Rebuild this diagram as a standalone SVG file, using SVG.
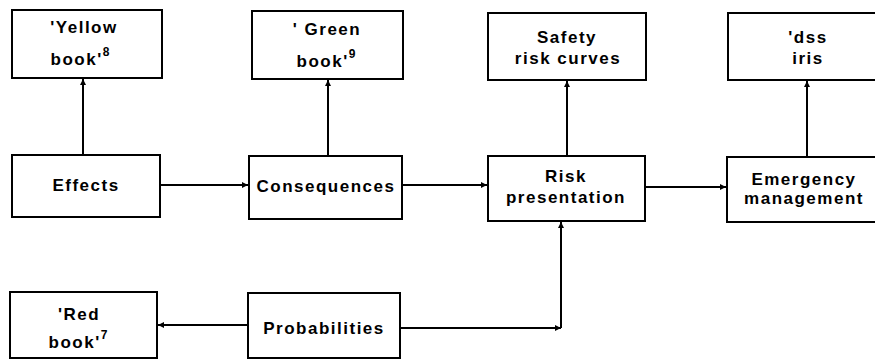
<svg xmlns="http://www.w3.org/2000/svg" width="875" height="360" viewBox="0 0 875 360">
<defs>
<marker id="ah" viewBox="0 0 10 10" refX="10" refY="5" markerWidth="9" markerHeight="6" markerUnits="userSpaceOnUse" orient="auto">
<path d="M0,0 L10,5 L0,10 z" fill="#000"/>
</marker>
<style>
rect{fill:#fff;stroke:#000;stroke-width:2}
text{font-family:"Liberation Sans",Arial,sans-serif;font-size:17px;font-weight:bold;letter-spacing:1.5px;fill:#000;text-anchor:middle}
.sup{font-size:12px;font-weight:bold;letter-spacing:0}
#connectors line{stroke:#000;stroke-width:2;fill:none;marker-end:url(#ah)}
</style>
</defs>
<rect x="0" y="0" width="875" height="360" style="stroke:none;fill:#fff"/>
<g id="connectors">
<line x1="83" y1="155" x2="83" y2="79"/>
<line x1="328" y1="155" x2="328" y2="80"/>
<line x1="567" y1="155" x2="567" y2="81"/>
<line x1="807" y1="157" x2="807" y2="81"/>
<line x1="160" y1="185" x2="248" y2="185"/>
<line x1="402" y1="185" x2="487" y2="185"/>
<line x1="645" y1="187" x2="726" y2="187"/>
<line x1="248" y1="325" x2="158" y2="325"/>
<line x1="400" y1="328" x2="561" y2="328"/>
<line x1="561" y1="328" x2="561" y2="222"/>
</g>
<g id="yellow">
<rect x="12" y="10" width="150" height="68"/>
<text x="84" y="33">'Yellow</text>
<text x="80" y="65">book'<tspan class="sup" dy="-9">8</tspan></text>
</g>
<g id="green">
<rect x="252" y="11" width="151" height="68"/>
<text x="327" y="35">' Green</text>
<text x="326" y="67">book'<tspan class="sup" dy="-9">9</tspan></text>
</g>
<g id="safety">
<rect x="488" y="13" width="158" height="67"/>
<text x="567" y="43">Safety</text>
<text x="568" y="64">risk curves</text>
</g>
<g id="dss">
<rect x="728" y="13" width="160" height="67"/>
<text x="808" y="43">'dss</text>
<text x="808" y="64">iris</text>
</g>
<g id="effects">
<rect x="12" y="155" width="148" height="62"/>
<text x="86" y="191">Effects</text>
</g>
<g id="consequences">
<rect x="249" y="156" width="153" height="63"/>
<text x="326" y="192">Consequences</text>
</g>
<g id="risk">
<rect x="488" y="156" width="157" height="65"/>
<text x="566" y="182">Risk</text>
<text x="566" y="203">presentation</text>
</g>
<g id="emergency">
<rect x="727" y="157" width="160" height="65"/>
<text x="804" y="185">Emergency</text>
<text x="804" y="204">management</text>
</g>
<g id="red">
<rect x="10" y="292" width="147" height="66"/>
<text x="79" y="320">'Red</text>
<text x="78" y="348">book'<tspan class="sup" dy="-9">7</tspan></text>
</g>
<g id="probabilities">
<rect x="248" y="293" width="152" height="65"/>
<text x="324" y="334">Probabilities</text>
</g>
</svg>
